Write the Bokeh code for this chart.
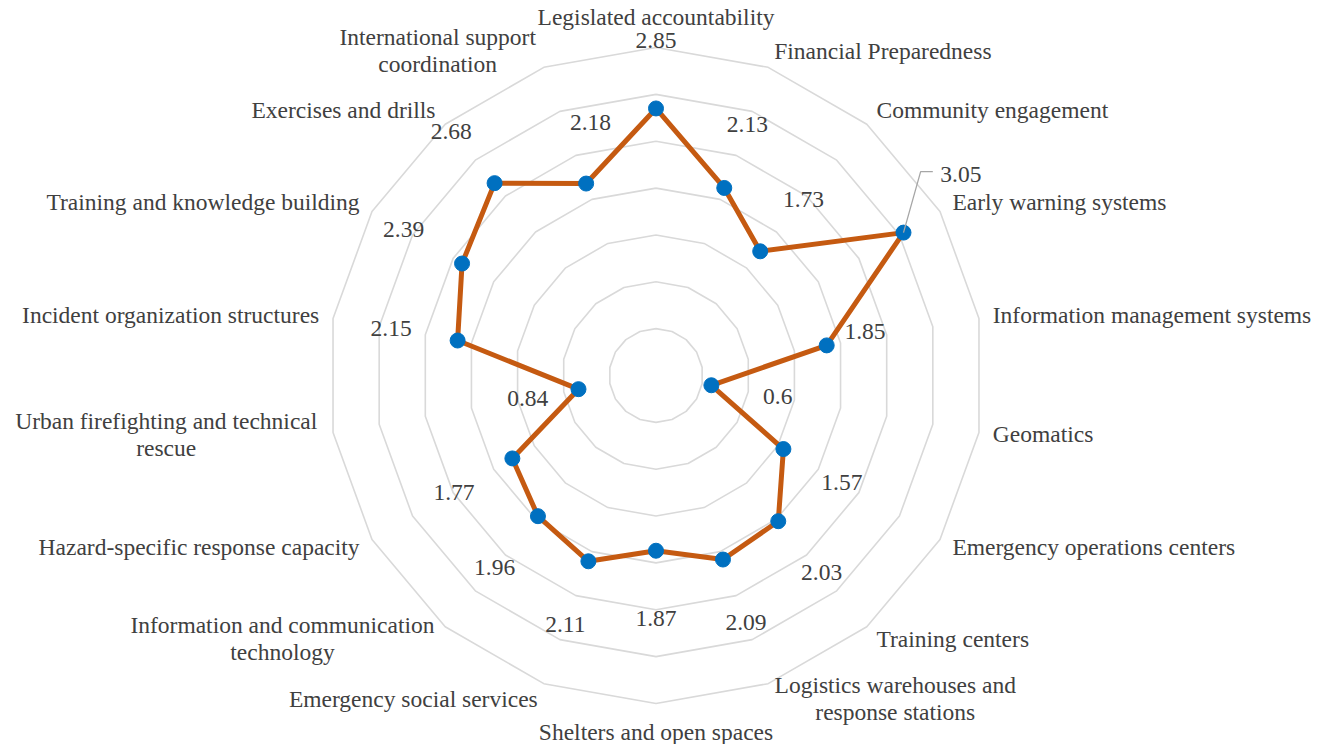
import math
from bokeh.plotting import figure
from bokeh.models import Range1d
from bokeh.core.properties import value
from bokeh.embed import file_html
from bokeh.resources import INLINE

categories = [
    "Legislated accountability",
    "Financial Preparedness",
    "Community engagement",
    "Early warning systems",
    "Information management systems",
    "Geomatics",
    "Emergency operations centers",
    "Training centers",
    "Logistics warehouses and\nresponse stations",
    "Shelters and open spaces",
    "Emergency social services",
    "Information and communication\ntechnology",
    "Hazard-specific response capacity",
    "Urban firefighting and technical\nrescue",
    "Incident organization structures",
    "Training and knowledge building",
    "Exercises and drills",
    "International support\ncoordination",
]
scores = [2.85, 2.13, 1.73, 3.05, 1.85, 0.6, 1.57, 2.03, 2.09, 1.87,
          2.11, 1.96, 1.77, 0.84, 2.15, 2.39, 2.68, 2.18]
score_labels = ["2.85", "2.13", "1.73", "3.05", "1.85", "0.6", "1.57", "2.03", "2.09",
                "1.87", "2.11", "1.96", "1.77", "0.84", "2.15", "2.39", "2.68", "2.18"]
ring_levels = [0.5, 1.0, 1.5, 2.0, 2.5, 3.0, 3.5]

# layout / style
PX = 93.7           # pixels per unit
CX, CY = 655.5, 375 # center in pixels from top-left
W, H = 1334, 744
FONT = "'Times New Roman', 'Liberation Serif', serif"
TEXT_COLOR = "#404040"
FS = "23.5px"
# half widths (px) of the centred two-line category blocks
half_w = {8: 121, 11: 153, 13: 153, 17: 100}

n = len(categories)
angles = [2 * math.pi * i / n for i in range(n)]

p = figure(width=W, height=H, output_backend="svg", toolbar_location=None,
           x_range=Range1d(-CX / PX, (W - CX) / PX),
           y_range=Range1d(-(H - CY) / PX, CY / PX),
           min_border=0)
p.axis.visible = False
p.grid.visible = False
p.outline_line_color = None
p.background_fill_color = "white"
p.border_fill_color = "white"

# rings
for lv in ring_levels:
    xs = [lv * math.sin(a) for a in angles] + [0.0]
    ys = [lv * math.cos(a) for a in angles] + [lv]
    p.line(xs, ys, line_color="#D9D9D9", line_width=1.6)

# series
sx = [v * math.sin(a) for v, a in zip(scores, angles)]
sy = [v * math.cos(a) for v, a in zip(scores, angles)]
p.line(sx + [sx[0]], sy + [sy[0]], line_color="#C55A11", line_width=5,
       line_join="round")
p.scatter(sx, sy, size=15, fill_color="#0070C0", line_color="#0070C0")

# data labels (offset outward along axis)
dr = {i: 0.72 for i in range(n)}
dth = {i: 0.0 for i in range(n)}
dr[4], dth[4] = 0.43, -2.0
dr[13] = 0.55
dr[17], dth[17] = 0.61, 5.5
dr[3], dth[3] = 0.89, -3.0
for i in range(n):
    r = scores[i] + dr[i]
    a = angles[i] + math.radians(dth[i])
    lx, ly = r * math.sin(a), r * math.cos(a)
    if i == 3:
        # leader line
        p.line([sx[i], lx - 0.48, lx - 0.35], [sy[i], ly + 0.03, ly + 0.03],
               line_color="#A6A6A6", line_width=1.3)
        p.text([lx - 0.27], [ly], text=[score_labels[i]], text_align="left",
               text_baseline="middle", text_font=value(FONT),
               text_font_size=FS, text_color=TEXT_COLOR)
    else:
        p.text([lx], [ly], text=[score_labels[i]], text_align="center",
               text_baseline="middle", text_font=value(FONT),
               text_font_size=FS, text_color=TEXT_COLOR)

# category labels
R_OUT = ring_levels[-1]
for i, cat in enumerate(categories):
    a = angles[i]
    s, c = math.sin(a), math.cos(a)
    lines = cat.split("\n")
    if abs(s) < 1e-6:
        align = "center"
        r = R_OUT + (0.33 if c > 0 else 0.30)
        bx, by = r * s, r * c
    else:
        vx, vy = R_OUT * s, R_OUT * c
        gap = (2 + 12 * abs(s)) / PX
        bx = vx + (gap if s > 0 else -gap)
        by = vy + 0.18 * c + 0.01
        if len(lines) > 1:
            align = "center"
            hw = half_w[i] / PX
            bx = bx + (hw if s > 0 else -hw)
        else:
            align = "left" if s > 0 else "right"
    nl = len(lines)
    for k, ln in enumerate(lines):
        yo = (k - (nl - 1) / 2) * 27.5
        p.text([bx], [by], text=[ln], text_align=align, text_baseline="middle",
               y_offset=yo, text_font=value(FONT), text_font_size=FS,
               text_color=TEXT_COLOR)

open("out.html", "w").write(file_html(p, INLINE))
